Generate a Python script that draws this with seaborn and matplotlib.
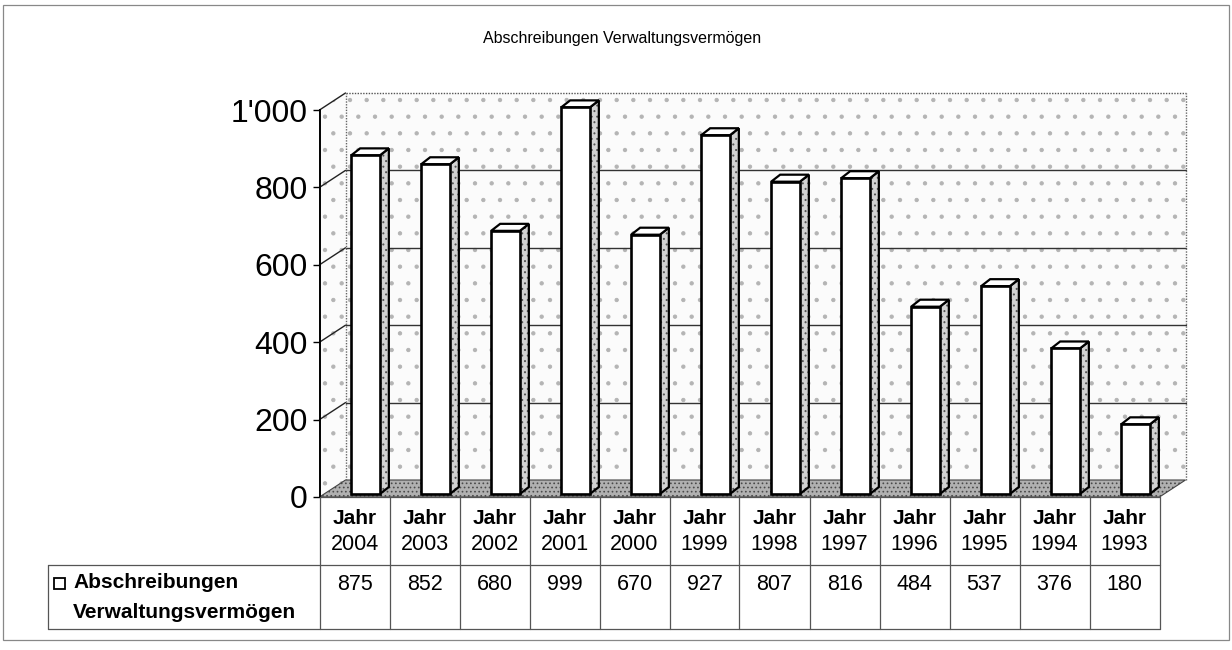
import numpy as np
import pandas as pd
import matplotlib
matplotlib.use("Agg")
import matplotlib.pyplot as plt
import seaborn as sns
from matplotlib.patches import Polygon, Rectangle
from matplotlib.lines import Line2D
from matplotlib.transforms import offset_copy

# ---------------- data ----------------
years = ["2004", "2003", "2002", "2001", "2000", "1999",
         "1998", "1997", "1996", "1995", "1994", "1993"]
values = [875, 852, 680, 999, 670, 927, 807, 816, 484, 537, 376, 180]
yticks = [0, 200, 400, 600, 800, 1000]
ytick_labels = ["0", "200", "400", "600", "800", "1'000"]
title = "Abschreibungen Verwaltungsvermögen"
series_label = ["Abschreibungen", "Verwaltungsvermögen"]
row_prefix = "Jahr"

# ---------------- style ----------------
sns.set_theme(style="white")
plt.rcParams["font.family"] = ["Liberation Sans", "DejaVu Sans"]
plt.rcParams["hatch.linewidth"] = 0.7

W, H = 1232, 650
fig = plt.figure(figsize=(W / 100, H / 100), dpi=100)
fig.patch.set_facecolor("white")


def fx(x):
    return x / W


def fy(y):
    return 1 - y / H


AX_L, AX_R, AX_T, AX_B = 319.5, 1159.5, 110, 497
ax = fig.add_axes([fx(AX_L), fy(AX_B), (AX_R - AX_L) / W, (AX_B - AX_T) / H])

df = pd.DataFrame({"year": years, "value": values})
sns.barplot(data=df, x="year", y="value", order=years, color="white",
            saturation=1, edgecolor="black", linewidth=1.9, width=0.41,
            ax=ax, zorder=5)
ax.set_xlim(-0.5, 11.5)
ax.set_ylim(0, 1000)
ax.patch.set_visible(False)
for s in ["top", "right", "bottom"]:
    ax.spines[s].set_visible(False)
ax.spines["left"].set_color("black")
ax.spines["left"].set_linewidth(1.4)
ax.spines["left"].set_zorder(6)
ax.set_xlabel("")
ax.set_ylabel("")
ax.tick_params(axis="x", bottom=False, labelbottom=False)
ax.set_yticks(yticks, labels=ytick_labels)
ax.tick_params(axis="y", left=True, length=5, width=1.0, direction="out",
               labelsize=23, pad=3.5, colors="black")

FO = np.array([11, 3])    # front-face offset of bars (px)
DP = np.array([9, 7])     # bar depth (px)
WO = np.array([26, 17])   # wall depth (px)


def off(xd, yd, o=(0, 0)):
    d = ax.transData.transform((xd, yd)) + np.asarray(o)
    return ax.transData.inverted().transform(d)


# ---- walls and floor ----
x_lo, x_hi = -0.5, 11.5
back = [off(x_lo, 0, WO), off(x_hi, 0, WO), off(x_hi, 1000, WO), off(x_lo, 1000, WO)]
side = [off(x_lo, 0), off(x_lo, 1000), off(x_lo, 1000, WO), off(x_lo, 0, WO)]
floor = [off(x_lo, 0), off(x_hi, 0), off(x_hi, 0, WO), off(x_lo, 0, WO)]
for poly in (back, side):
    ax.add_patch(Polygon(poly, closed=True, facecolor="#fbfbfb", edgecolor="#b4b4b4",
                         linewidth=0, hatch=".", clip_on=False, zorder=0))
ax.add_patch(Polygon(floor, closed=True, facecolor="#b0b0b0", edgecolor="#4a4a4a",
                     linewidth=0, hatch="....", clip_on=False, zorder=1))
ax.add_patch(Polygon(floor, closed=True, fill=False, edgecolor="#444444",
                     linewidth=0.8, clip_on=False, zorder=1))

# gridlines on back wall & side wall
for v in yticks[1:]:
    p0 = off(x_lo, v)
    p1 = off(x_lo, v, WO)
    p2 = off(x_hi, v, WO)
    ls = (0, (1, 1)) if v == 1000 else "-"
    col = "#555555" if v == 1000 else "#333333"
    ax.add_line(Line2D([p0[0], p1[0]], [p0[1], p1[1]], color="#222222", lw=1.0,
                       clip_on=False, zorder=1))
    ax.add_line(Line2D([p1[0], p2[0]], [p1[1], p2[1]], color=col, lw=1.0, ls=ls,
                       clip_on=False, zorder=1))
for xe in (x_lo, x_hi):
    a = off(xe, 0, WO)
    b = off(xe, 1000, WO)
    ax.add_line(Line2D([a[0], b[0]], [a[1], b[1]], color="#666666", lw=1.0,
                       ls=(0, (1, 1)), clip_on=False, zorder=1))

# ---- 3D bar faces ----
front_tr = offset_copy(ax.transData, fig=fig, x=FO[0], y=FO[1], units="dots")
for p in list(ax.patches):
    if not hasattr(p, "get_width") or p.get_width() > 0.9:
        continue
    x0, y0, w, h = p.get_x(), p.get_y(), p.get_width(), p.get_height()
    p.set_transform(front_tr)
    p.set_clip_on(False)
    x1 = x0 + w
    sidef = [off(x1, y0, FO), off(x1, y0 + h, FO), off(x1, y0 + h, FO + DP), off(x1, y0, FO + DP)]
    topf = [off(x0, y0 + h, FO), off(x1, y0 + h, FO), off(x1, y0 + h, FO + DP), off(x0, y0 + h, FO + DP)]
    ax.add_patch(Polygon(sidef, closed=True, facecolor="#d2d2d2", edgecolor="#555555",
                         linewidth=0, hatch="...", clip_on=False, zorder=4))
    ax.add_patch(Polygon(sidef, closed=True, fill=False, edgecolor="black",
                         linewidth=1.6, clip_on=False, zorder=4.5))
    ax.add_patch(Polygon(topf, closed=True, facecolor="white", edgecolor="black",
                         linewidth=1.6, clip_on=False, zorder=4.5))

# ---------------- data table ----------------
edges_px = [ax.transData.transform((k - 0.5, 0))[0] for k in range(len(years) + 1)]
centers_px = [ax.transData.transform((k, 0))[0] for k in range(len(years))]
T_TOP, T_MID, T_BOT = 497, 565, 629
LEFT_CELL = 48
lc = "#555555"
tlw = 0.9
fig.add_artist(Line2D([fx(edges_px[0]), fx(edges_px[-1])], [fy(T_TOP), fy(T_TOP)],
                      color=lc, lw=tlw))
for yy in (T_MID, T_BOT):
    fig.add_artist(Line2D([fx(LEFT_CELL), fx(edges_px[-1])], [fy(yy), fy(yy)],
                          color=lc, lw=tlw))
for xe in edges_px:
    fig.add_artist(Line2D([fx(xe), fx(xe)], [fy(T_TOP), fy(T_BOT)], color=lc, lw=tlw))
fig.add_artist(Line2D([fx(LEFT_CELL), fx(LEFT_CELL)], [fy(T_MID), fy(T_BOT)],
                      color=lc, lw=tlw))

for cx, yr, val in zip(centers_px, years, values):
    fig.text(fx(cx), fy(518), row_prefix, ha="center", va="center",
             fontsize=15, fontweight="bold", color="black")
    fig.text(fx(cx), fy(545), yr, ha="center", va="center",
             fontsize=15.5, color="black")
    fig.text(fx(cx), fy(584), f"{val}", ha="center", va="center",
             fontsize=15.5, color="black")

# legend key and series label
fig.add_artist(Rectangle((fx(54), fy(589)), 11 / W, 11 / H, transform=fig.transFigure,
                         facecolor="white", edgecolor="black", lw=1.3))
fig.text(fx(73), fy(583), series_label[0], ha="left", va="center",
         fontsize=15, fontweight="bold", color="black")
fig.text(fx(73), fy(612), series_label[1], ha="left", va="center",
         fontsize=15, fontweight="bold", color="black")

# title
fig.text(fx(622), fy(38), title, ha="center", va="center", fontsize=11.5, color="black")

# outer frame
fig.add_artist(Rectangle((fx(3), fy(640)), 1226 / W, 635 / H, transform=fig.transFigure,
                         fill=False, edgecolor="#888888", lw=0.9))

fig.savefig("out.png", dpi=100)
